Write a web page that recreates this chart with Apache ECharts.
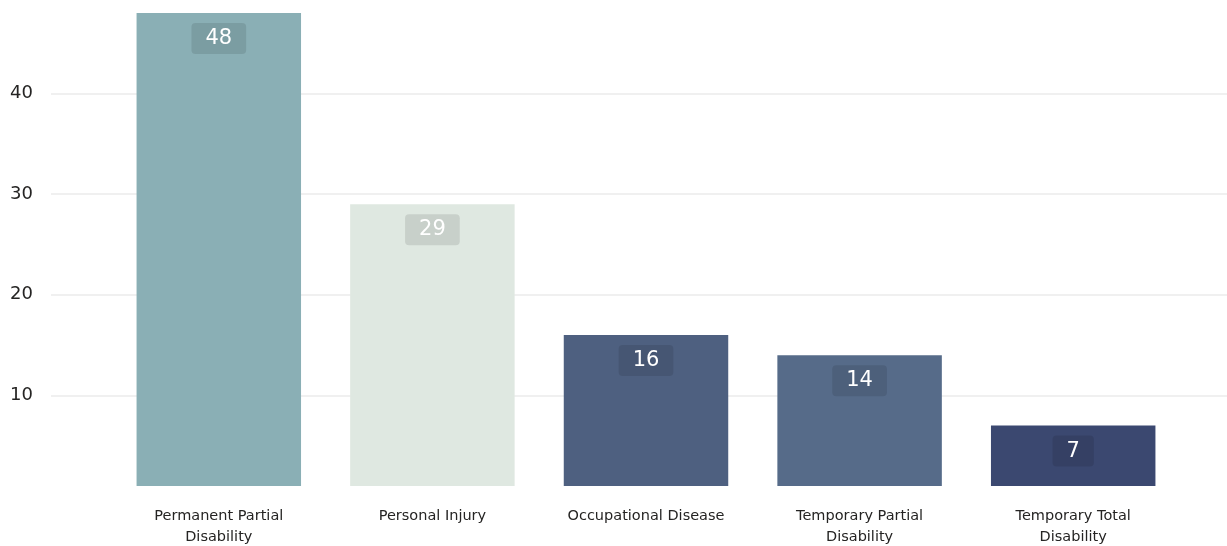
<!DOCTYPE html>
<html>
<head>
<meta charset="utf-8">
<script src="https://cdn.jsdelivr.net/npm/echarts@6/dist/echarts.min.js"></script>
<style>
html,body{margin:0;padding:0;background:#fff;}
#chart{width:1227px;height:546px;}
</style>
</head>
<body>
<div id="chart"></div>
<script>
const categories = ['Permanent Partial\nDisability', 'Personal Injury', 'Occupational Disease', 'Temporary Partial\nDisability', 'Temporary Total\nDisability'];
const values = [48, 29, 16, 14, 7];
const barColors = ['#8aafb5', '#dfe8e1', '#4e6080', '#566b89', '#3b4870'];
const yTicks = [10, 20, 30, 40];
const yMin = 1, yMax = 48;

const FONT = '"DejaVu Sans", sans-serif';
const chart = echarts.init(document.getElementById('chart'));
chart.setOption({
  animation: false,
  grid: [
    {left: 51, right: 0, top: 13, bottom: 60, containLabel: false, outerBoundsMode: 'none'},
    {left: 112, right: 47, top: 13, bottom: 60, containLabel: false, outerBoundsMode: 'none'}
  ],
  xAxis: [
    {gridIndex: 0, type: 'category', data: [], show: false},
    {gridIndex: 1, type: 'category', data: categories,
      axisLine: {show: false}, axisTick: {show: false},
      axisLabel: {fontFamily: FONT, fontSize: 14.5, color: '#252423', lineHeight: 21, margin: 20, interval: 0}}
  ],
  yAxis: [
    {gridIndex: 0, type: 'value', min: yMin, max: yMax,
      axisLine: {show: false},
      axisTick: {show: false, customValues: yTicks},
      axisLabel: {customValues: yTicks, fontFamily: FONT, fontSize: 18, color: '#252423', margin: 18},
      splitLine: {show: true, lineStyle: {color: '#f0f0f0', width: 2}}},
    {gridIndex: 1, type: 'value', min: yMin, max: yMax, show: false, splitLine: {show: false}}
  ],
  series: [{
    type: 'bar',
    xAxisIndex: 1, yAxisIndex: 1,
    barWidth: '77%',
    data: values.map((v, i) => ({value: v, itemStyle: {color: barColors[i]}})),
    label: {
      show: true, position: 'insideTop', distance: 10,
      fontFamily: FONT, fontSize: 21, color: '#ffffff', lineHeight: 21,
      backgroundColor: 'rgba(0,0,0,0.1)', borderRadius: 4, padding: [5, 14, 5, 14]
    }
  }]
});
</script>
</body>
</html>
